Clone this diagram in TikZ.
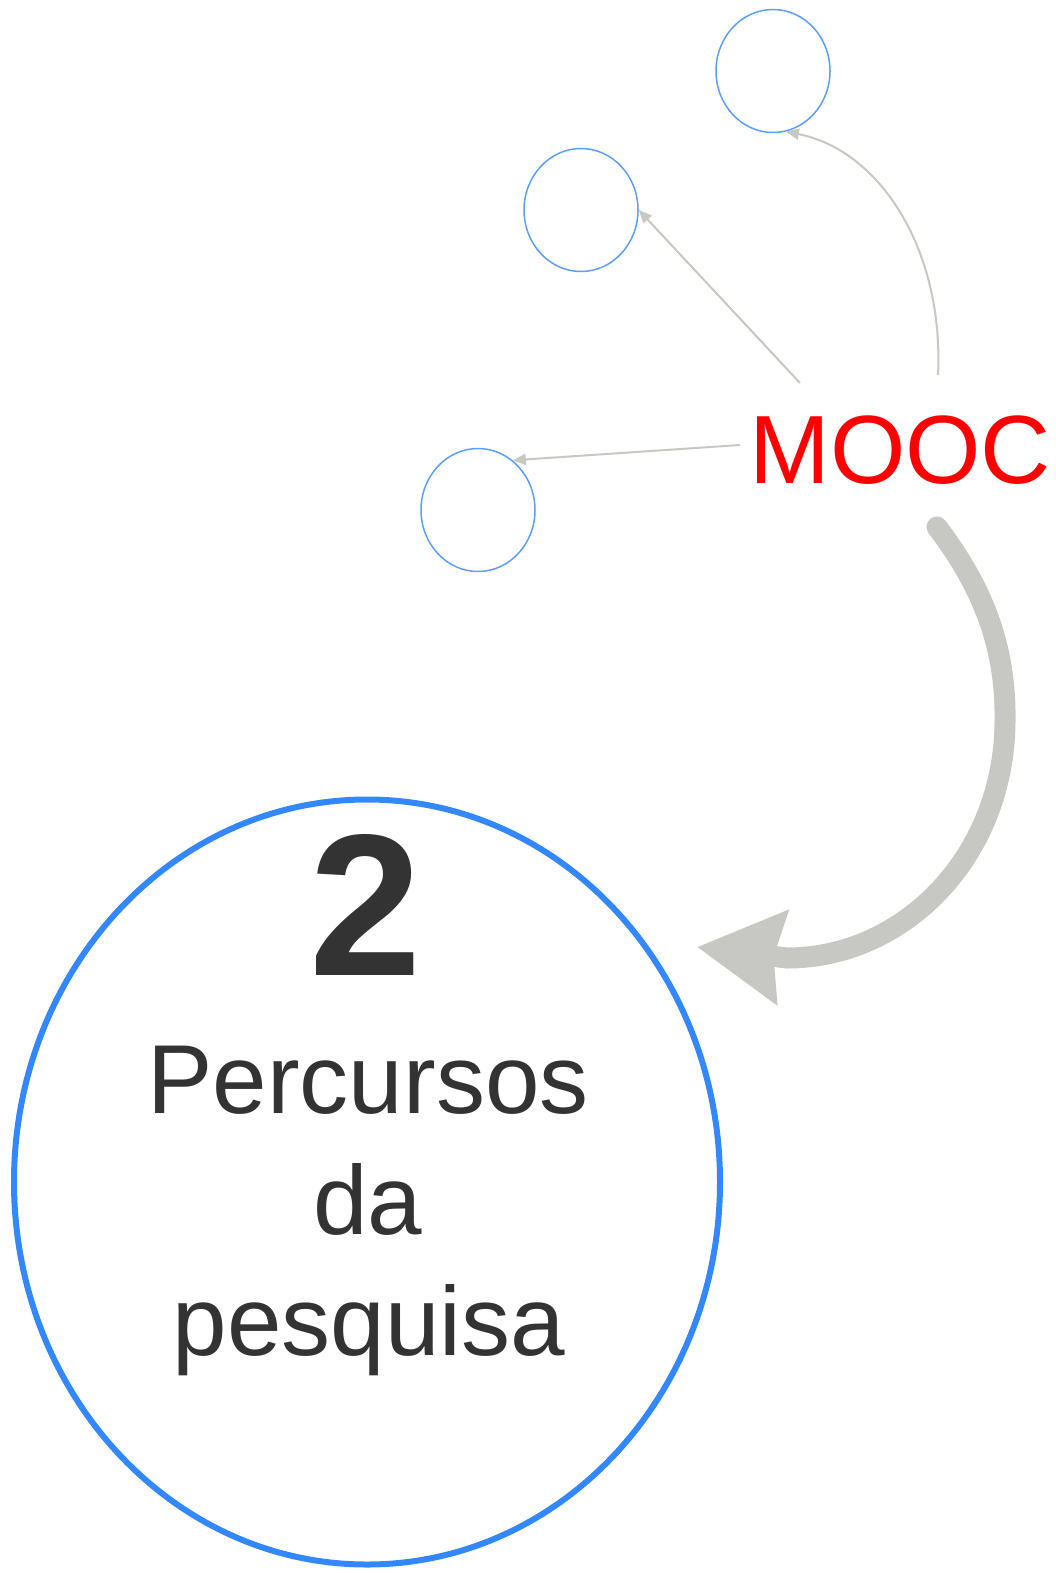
\documentclass[tikz,border=0pt]{standalone}
\usepackage{fontspec}
\setmainfont{Liberation Sans}
\usetikzlibrary{arrows.meta,shapes.geometric}
\definecolor{cblue}{HTML}{3388FF}
\definecolor{lblue}{HTML}{5C9EFF}
\definecolor{agray}{HTML}{C7C7C3}
\definecolor{tgray}{HTML}{333333}
\definecolor{mred}{HTML}{FF0000}
\begin{document}
\begin{tikzpicture}[x=1pt,y=-1pt,
 smallc/.style={ellipse, draw=lblue, line width=1.5pt, minimum width=114pt, minimum height=123pt, inner sep=0pt},
 bigc/.style={ellipse, draw=cblue, line width=6pt, minimum width=706pt, minimum height=765pt, inner sep=0pt},
 thinarrow/.style={draw=agray, line width=2pt, -{Triangle[length=13pt,width=11pt]}},
 bigarrow/.style={draw=agray, line width=21pt, line cap=round, -{Stealth[length=85pt,width=92pt,inset=8pt]}},
 txt/.style={inner sep=0pt, anchor=base, text=tgray, font=\fontsize{98}{121}\selectfont}]
\useasboundingbox (0,0) rectangle (1056,1573);
% small circles
\node[smallc] (c1) at (773,71) {};
\node[smallc] (c2) at (581,210) {};
\node[smallc] (c3) at (478,510) {};
% big circle
\node[bigc] (big) at (367,1182) {};
% MOOC
\node[inner sep=0pt, anchor=base west, text=mred, font=\fontsize{97}{110}\selectfont] (mooc) at (749,483) {MOOC};
% texts
\node[txt, font=\bfseries\fontsize{202}{210}\selectfont] (n2) at (366,975) {2};
\node[txt] (t1) at (368,1113) {Percursos};
\node[txt] (t2) at (368,1234) {da};
\node[txt] (t3) at (369,1355) {pesquisa};
% connectors
\coordinate (a1s) at (800,383);
\coordinate (a2s) at (938,375);
\coordinate (a3s) at (740,445);
\draw[thinarrow] (a1s) -- (c2.east);
\draw[thinarrow] (a2s) .. controls (944,250) and (880,150) .. (c1.-78);
\draw[thinarrow] (a3s) -- (c3.55);
\coordinate (bs) at (937,527);
\coordinate (bt) at (697,947);
\draw[bigarrow] (bs) .. controls (985,590) and (1006,650) .. (1005,720)
  .. controls (1005,855) and (905,958) .. (787,958) -- (bt);
\end{tikzpicture}
\end{document}
